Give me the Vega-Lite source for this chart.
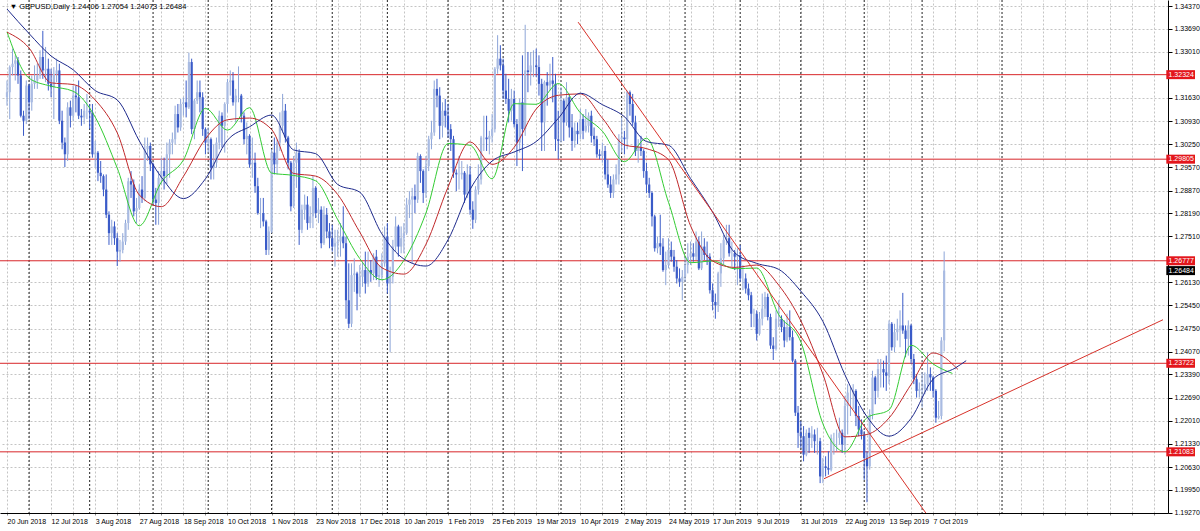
{"$schema":"https://vega.github.io/schema/vega-lite/v6.json","width":1168,"height":513,"autosize":"none","padding":{"left":0,"top":0,"right":32,"bottom":18},"background":"white","config":{"view":{"stroke":null},"font":"Liberation Sans"},"resolve":{"axis":{"x":"independent","y":"independent"}},
"datasets":{"lv":[{"p":1.32324,"t":"1.32324","k":"r"},{"p":1.29805,"t":"1.29805","k":"r"},{"p":1.26777,"t":"1.26777","k":"r"},{"p":1.23722,"t":"1.23722","k":"r"},{"p":1.21083,"t":"1.21083","k":"r"},{"p":1.26484,"t":"1.26484","k":"b"}]},
"data":{"format":{"type":"csv","parse":{"i":"number","o":"number","h":"number","l":"number","c":"number"}},"values":"i,o,h,l,c\n0,1.3165,1.3215,1.314,1.318\n1,1.318,1.326,1.31,1.3255\n2,1.3255,1.331,1.323,1.3265\n3,1.3265,1.329,1.3215,1.3275\n4,1.3275,1.3285,1.3205,1.323\n5,1.323,1.3245,1.3105,1.311\n6,1.311,1.3125,1.305,1.3095\n7,1.3095,1.3215,1.3085,1.32\n8,1.32,1.3205,1.31,1.315\n9,1.315,1.323,1.3125,1.3205\n10,1.3205,1.326,1.319,1.3215\n11,1.3215,1.3265,1.319,1.323\n12,1.323,1.3305,1.322,1.3285\n13,1.3285,1.3363,1.322,1.3245\n14,1.3245,1.3315,1.321,1.325\n15,1.325,1.328,1.3185,1.3205\n16,1.3205,1.325,1.3165,1.3195\n17,1.3195,1.3255,1.31,1.3235\n18,1.3235,1.328,1.321,1.3245\n19,1.3245,1.3265,1.3085,1.3095\n20,1.3095,1.3125,1.301,1.303\n21,1.303,1.3045,1.2957,1.2995\n22,1.2995,1.315,1.2975,1.3135\n23,1.3135,1.3155,1.3075,1.311\n24,1.311,1.32,1.3095,1.317\n25,1.317,1.32,1.312,1.3165\n26,1.3165,1.3215,1.31,1.311\n27,1.311,1.313,1.308,1.3105\n28,1.3105,1.3145,1.3085,1.3125\n29,1.3125,1.3175,1.31,1.3125\n30,1.3125,1.3145,1.307,1.312\n31,1.312,1.3145,1.2985,1.2995\n32,1.2995,1.3035,1.2955,1.3\n33,1.3,1.3005,1.2915,1.294\n34,1.294,1.2975,1.291,1.293\n35,1.293,1.2935,1.287,1.289\n36,1.289,1.2935,1.2805,1.2815\n37,1.2815,1.2825,1.2725,1.276\n38,1.276,1.28,1.2725,1.278\n39,1.278,1.2795,1.2725,1.2745\n40,1.2745,1.276,1.2662,1.2705\n41,1.2705,1.274,1.2675,1.271\n42,1.271,1.276,1.27,1.2735\n43,1.2735,1.28,1.2725,1.279\n44,1.279,1.2925,1.277,1.2915\n45,1.2915,1.2945,1.2865,1.2905\n46,1.2905,1.292,1.281,1.2825\n47,1.2825,1.2865,1.279,1.2835\n48,1.2835,1.2905,1.283,1.289\n49,1.289,1.293,1.285,1.2865\n50,1.2865,1.3045,1.2855,1.301\n51,1.301,1.3045,1.2975,1.302\n52,1.302,1.303,1.2945,1.2965\n53,1.2965,1.297,1.2845,1.286\n54,1.286,1.2895,1.2785,1.285\n55,1.285,1.2945,1.2785,1.2925\n56,1.2925,1.2985,1.2905,1.2945\n57,1.2945,1.2985,1.289,1.293\n58,1.293,1.303,1.2905,1.2995\n59,1.2995,1.304,1.2925,1.303\n60,1.303,1.306,1.2995,1.304\n61,1.304,1.314,1.3025,1.3115\n62,1.3115,1.3145,1.306,1.3075\n63,1.3075,1.316,1.3065,1.3145\n64,1.3145,1.3165,1.311,1.315\n65,1.315,1.3215,1.3105,1.3135\n66,1.3135,1.3298,1.313,1.327\n67,1.327,1.328,1.3055,1.307\n68,1.307,1.316,1.304,1.3155\n69,1.3155,1.3215,1.3145,1.318\n70,1.318,1.3215,1.312,1.3165\n71,1.3165,1.318,1.305,1.307\n72,1.307,1.3075,1.2995,1.303\n73,1.303,1.3075,1.3,1.304\n74,1.304,1.3045,1.292,1.2955\n75,1.2955,1.3025,1.292,1.297\n76,1.297,1.3045,1.2955,1.303\n77,1.303,1.3125,1.301,1.311\n78,1.311,1.312,1.3015,1.308\n79,1.308,1.315,1.3,1.3145\n80,1.3145,1.322,1.312,1.321\n81,1.321,1.3245,1.317,1.3215\n82,1.3215,1.324,1.314,1.315\n83,1.315,1.319,1.309,1.317\n84,1.317,1.3257,1.315,1.317\n85,1.317,1.3175,1.309,1.311\n86,1.311,1.312,1.3025,1.304\n87,1.304,1.309,1.2995,1.305\n88,1.305,1.3055,1.2955,1.2965\n89,1.2965,1.3045,1.2925,1.297\n90,1.297,1.3,1.288,1.29\n91,1.29,1.2925,1.2815,1.282\n92,1.282,1.2865,1.2775,1.282\n93,1.282,1.2865,1.278,1.2795\n94,1.2795,1.28,1.2695,1.271\n95,1.271,1.278,1.2695,1.2765\n96,1.2765,1.301,1.276,1.3\n97,1.3,1.3045,1.2935,1.2965\n98,1.2965,1.304,1.2935,1.303\n99,1.303,1.312,1.3005,1.308\n100,1.308,1.3175,1.306,1.3125\n101,1.3125,1.3145,1.303,1.3045\n102,1.3045,1.305,1.295,1.297\n103,1.297,1.2975,1.2825,1.284\n104,1.284,1.299,1.2835,1.297\n105,1.297,1.303,1.2895,1.3\n106,1.3,1.301,1.2725,1.277\n107,1.277,1.2845,1.276,1.283\n108,1.283,1.2875,1.28,1.2845\n109,1.2845,1.287,1.277,1.279\n110,1.279,1.284,1.2775,1.281\n111,1.281,1.293,1.2775,1.2895\n112,1.2895,1.29,1.2805,1.282\n113,1.282,1.2865,1.279,1.283\n114,1.283,1.284,1.2715,1.273\n115,1.273,1.284,1.2725,1.2815\n116,1.2815,1.2835,1.2745,1.2765\n117,1.2765,1.279,1.2715,1.2745\n118,1.2745,1.2785,1.2705,1.272\n119,1.272,1.277,1.266,1.273\n120,1.273,1.277,1.269,1.2735\n121,1.2735,1.279,1.269,1.275\n122,1.275,1.284,1.2715,1.273\n123,1.273,1.275,1.2505,1.256\n124,1.256,1.267,1.2477,1.249\n125,1.249,1.267,1.248,1.2635\n126,1.2635,1.2685,1.2585,1.264\n127,1.264,1.2645,1.253,1.258\n128,1.258,1.2665,1.257,1.263\n129,1.263,1.2675,1.26,1.265\n130,1.265,1.2705,1.258,1.261\n131,1.261,1.2705,1.26,1.265\n132,1.265,1.268,1.2615,1.264\n133,1.264,1.27,1.262,1.269\n134,1.269,1.271,1.262,1.263\n135,1.263,1.2665,1.26,1.2635\n136,1.2635,1.27,1.262,1.267\n137,1.267,1.278,1.266,1.275\n138,1.275,1.279,1.258,1.261\n139,1.261,1.266,1.2405,1.263\n140,1.263,1.274,1.261,1.272\n141,1.272,1.281,1.2705,1.278\n142,1.278,1.2785,1.269,1.272\n143,1.272,1.278,1.27,1.2745\n144,1.2745,1.279,1.27,1.276\n145,1.276,1.2865,1.2755,1.2845\n146,1.2845,1.2885,1.2805,1.286\n147,1.286,1.2895,1.267,1.287\n148,1.287,1.2905,1.282,1.286\n149,1.286,1.3,1.285,1.299\n150,1.299,1.2995,1.291,1.2945\n151,1.2945,1.295,1.285,1.288\n152,1.288,1.299,1.2865,1.296\n153,1.296,1.305,1.2945,1.304\n154,1.304,1.3095,1.301,1.306\n155,1.306,1.3215,1.305,1.319\n156,1.319,1.322,1.3135,1.317\n157,1.317,1.3195,1.304,1.308\n158,1.308,1.315,1.3045,1.3125\n159,1.3125,1.316,1.3075,1.311\n160,1.311,1.3145,1.3045,1.307\n161,1.307,1.3085,1.3005,1.304\n162,1.304,1.305,1.2925,1.294\n163,1.294,1.295,1.2885,1.2935\n164,1.2935,1.299,1.289,1.2935\n165,1.2935,1.2975,1.292,1.294\n166,1.294,1.2945,1.285,1.2875\n167,1.2875,1.2965,1.2865,1.2935\n168,1.2935,1.296,1.2815,1.283\n169,1.283,1.2855,1.2773,1.28\n170,1.28,1.29,1.279,1.289\n171,1.289,1.2965,1.2875,1.292\n172,1.292,1.305,1.2905,1.3045\n173,1.3045,1.311,1.3005,1.3045\n174,1.3045,1.311,1.3005,1.304\n175,1.304,1.3065,1.2995,1.305\n176,1.305,1.3115,1.303,1.307\n177,1.307,1.3255,1.306,1.325\n178,1.325,1.335,1.3235,1.328\n179,1.328,1.332,1.3245,1.326\n180,1.326,1.328,1.316,1.3185\n181,1.3185,1.3235,1.3145,1.316\n182,1.316,1.322,1.309,1.3125\n183,1.3125,1.319,1.3095,1.316\n184,1.316,1.3185,1.3075,1.3085\n185,1.3085,1.31,1.296,1.303\n186,1.303,1.316,1.3,1.315\n187,1.315,1.329,1.2945,1.307\n188,1.307,1.3381,1.305,1.3245\n189,1.3245,1.33,1.318,1.324\n190,1.324,1.33,1.32,1.326\n191,1.326,1.3305,1.3225,1.326\n192,1.326,1.331,1.3225,1.3255\n193,1.3255,1.329,1.317,1.3205\n194,1.3205,1.322,1.3005,1.309\n195,1.309,1.3215,1.3005,1.321\n196,1.321,1.324,1.314,1.32\n197,1.32,1.3265,1.3185,1.3215\n198,1.3215,1.3285,1.315,1.3205\n199,1.3205,1.3235,1.3005,1.304\n200,1.304,1.3125,1.298,1.3035\n201,1.3035,1.3195,1.303,1.3155\n202,1.3155,1.316,1.3035,1.309\n203,1.309,1.321,1.308,1.3165\n204,1.3165,1.3175,1.3045,1.3075\n205,1.3075,1.3115,1.3005,1.3035\n206,1.3035,1.309,1.3015,1.3065\n207,1.3065,1.309,1.3025,1.3055\n208,1.3055,1.313,1.304,1.31\n209,1.31,1.3115,1.304,1.3065\n210,1.3065,1.313,1.306,1.308\n211,1.308,1.312,1.306,1.311\n212,1.311,1.3125,1.303,1.305\n213,1.305,1.3075,1.302,1.304\n214,1.304,1.305,1.2985,1.2995\n215,1.2995,1.301,1.298,1.299\n216,1.299,1.303,1.297,1.3005\n217,1.3005,1.302,1.292,1.2935\n218,1.2935,1.298,1.2895,1.2905\n219,1.2905,1.293,1.2865,1.288\n220,1.288,1.2935,1.2865,1.292\n221,1.292,1.2965,1.2905,1.2935\n222,1.2935,1.3055,1.2905,1.304\n223,1.304,1.3105,1.3,1.3045\n224,1.3045,1.3065,1.2995,1.304\n225,1.304,1.3185,1.301,1.318\n226,1.318,1.3185,1.311,1.3145\n227,1.3145,1.3175,1.308,1.309\n228,1.309,1.311,1.299,1.3005\n229,1.3005,1.304,1.297,1.3015\n230,1.3015,1.305,1.299,1.3005\n231,1.3005,1.301,1.2925,1.2945\n232,1.2945,1.297,1.288,1.2905\n233,1.2905,1.2925,1.2865,1.288\n234,1.288,1.2885,1.278,1.281\n235,1.281,1.2815,1.2705,1.2715\n236,1.2715,1.275,1.27,1.273\n237,1.273,1.2815,1.2695,1.272\n238,1.272,1.2745,1.2645,1.265\n239,1.265,1.2705,1.2605,1.2665\n240,1.2665,1.2745,1.2655,1.271\n241,1.271,1.2735,1.2675,1.269\n242,1.269,1.271,1.2645,1.266\n243,1.266,1.268,1.261,1.2625\n244,1.2625,1.2655,1.26,1.2615\n245,1.2615,1.265,1.256,1.263\n246,1.263,1.269,1.2615,1.2665\n247,1.2665,1.273,1.264,1.269\n248,1.269,1.2735,1.2665,1.27\n249,1.27,1.273,1.2675,1.269\n250,1.269,1.2765,1.268,1.2735\n251,1.2735,1.275,1.265,1.2655\n252,1.2655,1.2765,1.265,1.272\n253,1.272,1.2745,1.268,1.2695\n254,1.2695,1.2735,1.2665,1.269\n255,1.269,1.27,1.258,1.259\n256,1.259,1.261,1.253,1.2555\n257,1.2555,1.258,1.2505,1.2545\n258,1.2545,1.2645,1.2525,1.264\n259,1.264,1.273,1.26,1.2685\n260,1.2685,1.2755,1.2665,1.274\n261,1.274,1.2785,1.2725,1.2745\n262,1.2745,1.2785,1.269,1.27\n263,1.27,1.2735,1.266,1.27\n264,1.27,1.271,1.265,1.269\n265,1.269,1.2715,1.2605,1.2695\n266,1.2695,1.2725,1.2615,1.2625\n267,1.2625,1.2665,1.259,1.2625\n268,1.2625,1.264,1.258,1.2595\n269,1.2595,1.261,1.256,1.2575\n270,1.2575,1.2585,1.248,1.252\n271,1.252,1.2535,1.248,1.252\n272,1.252,1.253,1.244,1.246\n273,1.246,1.2525,1.2455,1.2505\n274,1.2505,1.258,1.2485,1.2535\n275,1.2535,1.2585,1.251,1.257\n276,1.257,1.258,1.25,1.251\n277,1.251,1.252,1.2415,1.2425\n278,1.2425,1.245,1.2382,1.2415\n279,1.2415,1.253,1.241,1.2505\n280,1.2505,1.256,1.248,1.2505\n281,1.2505,1.2515,1.2465,1.248\n282,1.248,1.25,1.242,1.244\n283,1.244,1.252,1.2435,1.248\n284,1.248,1.253,1.244,1.245\n285,1.245,1.247,1.2375,1.238\n286,1.238,1.2385,1.2215,1.2225\n287,1.2225,1.2245,1.212,1.2165\n288,1.2165,1.22,1.212,1.2155\n289,1.2155,1.2185,1.208,1.21\n290,1.21,1.2175,1.2095,1.2165\n291,1.2165,1.218,1.2105,1.215\n292,1.215,1.2185,1.212,1.216\n293,1.216,1.2175,1.2105,1.214\n294,1.214,1.218,1.21,1.214\n295,1.214,1.215,1.2015,1.2035\n296,1.2035,1.209,1.2015,1.2065\n297,1.2065,1.2095,1.2035,1.206\n298,1.206,1.211,1.204,1.2055\n299,1.2055,1.216,1.205,1.215\n300,1.215,1.2165,1.21,1.215\n301,1.215,1.2175,1.211,1.215\n302,1.215,1.221,1.213,1.2165\n303,1.2165,1.2175,1.2105,1.213\n304,1.213,1.2275,1.21,1.2245\n305,1.2245,1.231,1.216,1.2285\n306,1.2285,1.2305,1.2215,1.2285\n307,1.2285,1.231,1.2235,1.229\n308,1.229,1.2295,1.2185,1.2215\n309,1.2215,1.2245,1.2155,1.2175\n310,1.2175,1.2205,1.2145,1.216\n311,1.216,1.217,1.2025,1.209\n312,1.209,1.211,1.1958,1.2065\n313,1.2065,1.2235,1.2055,1.222\n314,1.222,1.235,1.2205,1.233\n315,1.233,1.2335,1.225,1.229\n316,1.229,1.2385,1.227,1.2355\n317,1.2355,1.2385,1.23,1.2355\n318,1.2355,1.238,1.23,1.2345\n319,1.2345,1.2395,1.229,1.2335\n320,1.2335,1.25,1.231,1.249\n321,1.249,1.2495,1.241,1.242\n322,1.242,1.249,1.2405,1.2465\n323,1.2465,1.2505,1.244,1.2475\n324,1.2475,1.253,1.242,1.2485\n325,1.2485,1.2582,1.246,1.247\n326,1.247,1.2485,1.239,1.2445\n327,1.2445,1.25,1.2395,1.2485\n328,1.2485,1.249,1.237,1.2385\n329,1.2385,1.24,1.231,1.2325\n330,1.2325,1.234,1.227,1.229\n331,1.229,1.2315,1.227,1.2295\n332,1.2295,1.2345,1.224,1.2295\n333,1.2295,1.2345,1.228,1.231\n334,1.231,1.2405,1.229,1.234\n335,1.234,1.236,1.229,1.233\n336,1.233,1.2335,1.227,1.229\n337,1.229,1.2295,1.2195,1.221\n338,1.221,1.226,1.2205,1.2215\n339,1.2215,1.245,1.2205,1.244\n340,1.24406,1.27054,1.24073,1.26484"},
"layer":[
{"data":{"values":[{"i":8},{"i":30},{"i":53},{"i":73},{"i":96},{"i":118},{"i":138},{"i":160},{"i":180},{"i":201},{"i":223},{"i":246},{"i":266},{"i":288},{"i":311},{"i":332},{"i":361}]},"mark":{"type":"rule","color":"#222222","strokeDash":[2,2],"strokeWidth":1},
"encoding":{"x":{"field":"i","type":"quantitative","scale":{"domain":[-0.72,419.4],"nice":false,"zero":false},"axis":{"orient":"bottom","title":null,"values":[0,8,16,24,32,40,48,56,64,72,80,88,96,104,112,120,128,136,144,152,160,168,176,184,192,200,208,216,224,232,240,248,256,264,272,280,288,296,304,312,320,328,336,344,352,360,368,376,384,392,400,408,416],
"labelExpr":"datum.value==0?'20 Jun 2018':datum.value==16?'12 Jul 2018':datum.value==32?'3 Aug 2018':datum.value==48?'27 Aug 2018':datum.value==64?'18 Sep 2018':datum.value==80?'10 Oct 2018':datum.value==96?'1 Nov 2018':datum.value==112?'23 Nov 2018':datum.value==128?'17 Dec 2018':datum.value==144?'10 Jan 2019':datum.value==160?'1 Feb 2019':datum.value==176?'25 Feb 2019':datum.value==192?'19 Mar 2019':datum.value==208?'10 Apr 2019':datum.value==224?'2 May 2019':datum.value==240?'24 May 2019':datum.value==256?'17 Jun 2019':datum.value==272?'9 Jul 2019':datum.value==288?'31 Jul 2019':datum.value==304?'22 Aug 2019':datum.value==320?'13 Sep 2019':datum.value==336?'7 Oct 2019':''",
"labelAlign":"left","labelBaseline":"top","labelPadding":2,"labelFontSize":7,"labelColor":"#000000","labelOverlap":false,"grid":true,"gridColor":"#c4c4c4","gridDash":[2,2],"tickSize":2,"tickColor":"#888888","domainColor":"#000000"}}}},
{"data":{"name":"lv"},"transform":[{"filter":{"field":"k","equal":"r"}}],"mark":{"type":"rule","color":"#d8262a","strokeWidth":1},
"encoding":{"y":{"field":"p","type":"quantitative","scale":{"domain":[1.1926,1.34549],"nice":false,"zero":false},"axis":{"orient":"right","title":null,"values":[1.3437,1.3369,1.3301,1.3163,1.3093,1.3025,1.2957,1.2887,1.2819,1.2751,1.2613,1.2545,1.2475,1.2407,1.2339,1.2269,1.2201,1.2133,1.2063,1.1995,1.1927],"format":".5f","labelFontSize":7,"labelColor":"#000000","labelPadding":2,"labelOverlap":false,"grid":true,"gridColor":"#c4c4c4","gridDash":[2,2],"tickSize":4,"tickColor":"#000000","domainColor":"#000000"}}}},
{"mark":{"type":"rule","strokeWidth":1,"clip":true},
"encoding":{"x":{"field":"i","type":"quantitative","axis":null},"y":{"field":"l","type":"quantitative","axis":null},"y2":{"field":"h"},"color":{"condition":{"test":"datum.c >= datum.o","value":"#8da5d8"},"value":"#3a5bc8"}}},
{"mark":{"type":"bar","width":2.2,"clip":true},
"encoding":{"x":{"field":"i","type":"quantitative","axis":null},"y":{"field":"o","type":"quantitative","axis":null},"y2":{"field":"c"},"color":{"condition":{"test":"datum.c >= datum.o","value":"#a9bbe2"},"value":"#3a5bc8"}}},
{"data":{"format":{"type":"csv","parse":{"i":"number","v":"number"}},"values":"i,v,k\n0,1.336,g\n8,1.3222,g\n16,1.3198,g\n24,1.3183,g\n32,1.3106,g\n40,1.2954,g\n48,1.2782,g\n56,1.2912,g\n64,1.2978,g\n72,1.3132,g\n80,1.3067,g\n88,1.3134,g\n96,1.2939,g\n104,1.2932,g\n112,1.2916,g\n120,1.28,g\n128,1.2684,g\n136,1.2621,g\n144,1.2679,g\n152,1.282,g\n160,1.3027,g\n168,1.3022,g\n176,1.2922,g\n184,1.3146,g\n192,1.3144,g\n200,1.3206,g\n208,1.3119,g\n216,1.3064,g\n224,1.2973,g\n232,1.3043,g\n240,1.2852,g\n248,1.2672,g\n256,1.2677,g\n264,1.2654,g\n272,1.2656,g\n280,1.2517,g\n288,1.2436,g\n296,1.2192,g\n304,1.2109,g\n312,1.221,g\n320,1.2233,g\n328,1.2426,g\n336,1.237,g\n343,1.2342,g\n0,1.3359,r\n8,1.3312,r\n16,1.3208,r\n24,1.3203,r\n32,1.3157,r\n40,1.3059,r\n48,1.2874,r\n56,1.2839,r\n64,1.2929,r\n72,1.3041,r\n80,1.3098,r\n88,1.3103,r\n96,1.3069,r\n104,1.2938,r\n112,1.293,r\n120,1.2875,r\n128,1.2763,r\n136,1.2657,r\n144,1.2638,r\n152,1.2727,r\n160,1.2897,r\n168,1.3032,r\n176,1.2965,r\n184,1.3016,r\n192,1.313,r\n200,1.3171,r\n208,1.3175,r\n216,1.3103,r\n224,1.3023,r\n232,1.3012,r\n240,1.2979,r\n248,1.2782,r\n256,1.2677,r\n264,1.2658,r\n272,1.2665,r\n280,1.2605,r\n288,1.2499,r\n296,1.234,r\n304,1.2153,r\n312,1.216,r\n320,1.2209,r\n328,1.2309,r\n336,1.2403,r\n345,1.2354,r\n0,1.3428,b\n8,1.3355,b\n16,1.3288,b\n24,1.3247,b\n32,1.3185,b\n40,1.3157,b\n48,1.3035,b\n56,1.2927,b\n64,1.2863,b\n72,1.2922,b\n80,1.3037,b\n88,1.3077,b\n96,1.3112,b\n104,1.3008,b\n112,1.2997,b\n120,1.2905,b\n128,1.2882,b\n136,1.2758,b\n144,1.2683,b\n152,1.2662,b\n160,1.274,b\n168,1.289,b\n176,1.2975,b\n184,1.3002,b\n192,1.3033,b\n200,1.3102,b\n208,1.3177,b\n216,1.3143,b\n224,1.3107,b\n232,1.3033,b\n240,1.3022,b\n248,1.2923,b\n256,1.2823,b\n264,1.2702,b\n272,1.267,b\n280,1.2652,b\n288,1.2587,b\n296,1.2497,b\n304,1.2338,b\n312,1.2213,b\n320,1.2155,b\n328,1.2208,b\n336,1.2325,b\n344,1.2358,b\n348,1.238,b"},
"mark":{"type":"line","strokeWidth":1,"clip":true,"interpolate":"monotone"},
"encoding":{"x":{"field":"i","type":"quantitative","axis":null},"y":{"field":"v","type":"quantitative","axis":null},"color":{"field":"k","type":"nominal","scale":{"domain":["g","r","b"],"range":["#33cc33","#c0282a","#1e2a8c"]},"legend":null}}},
{"data":{"values":[{"i":207.2,"p":1.3389,"g":"a"},{"i":335.6,"p":1.19,"g":"a"},{"i":296.4,"p":1.2028,"g":"b"},{"i":419.4,"p":1.2502,"g":"b"}]},"mark":{"type":"line","color":"#d8322a","strokeWidth":1,"clip":true},
"encoding":{"x":{"field":"i","type":"quantitative","axis":null},"y":{"field":"p","type":"quantitative","axis":null},"detail":{"field":"g","type":"nominal"}}},
{"data":{"name":"lv"},"mark":{"type":"rule","strokeWidth":9,"strokeCap":"butt","clip":false},
"encoding":{"x":{"datum":420.6,"type":"quantitative","axis":null},"x2":{"datum":431},"y":{"field":"p","type":"quantitative","axis":null},"color":{"condition":{"test":"datum.k == 'r'","value":"#e3161c"},"value":"#000000"}}},
{"data":{"name":"lv"},"mark":{"type":"text","align":"left","baseline":"middle","fontSize":7,"color":"#ffffff","clip":false},
"encoding":{"x":{"datum":421.4,"type":"quantitative","axis":null},"y":{"field":"p","type":"quantitative","axis":null},"text":{"field":"t","type":"nominal"}}},
{"data":{"values":[{"i":1.0,"p":1.3434,"t":"\u25bc GBPUSD,Daily  1.24406 1.27054 1.24073 1.26484"}]},"mark":{"type":"text","align":"left","baseline":"middle","fontSize":7.5,"color":"#000000"},
"encoding":{"x":{"field":"i","type":"quantitative","axis":null},"y":{"field":"p","type":"quantitative","axis":null},"text":{"field":"t","type":"nominal"}}}
]}
